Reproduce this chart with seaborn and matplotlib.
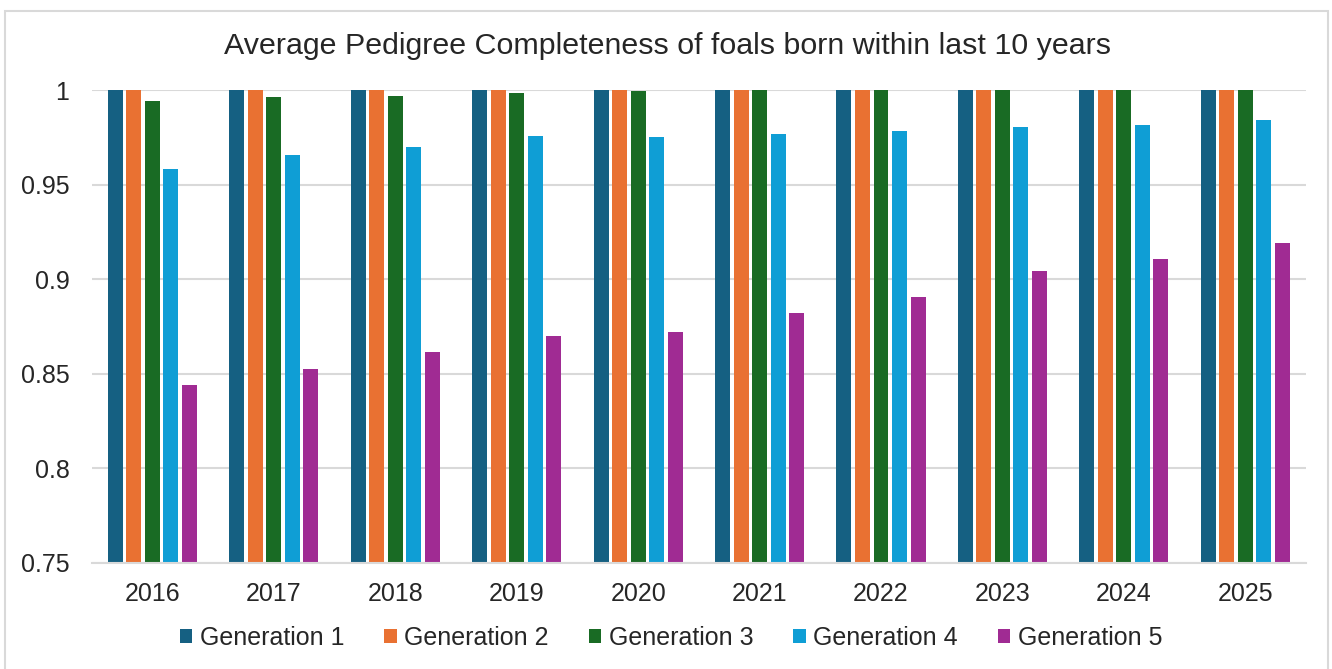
import matplotlib
matplotlib.use("Agg")
import matplotlib.pyplot as plt
import seaborn as sns
import pandas as pd
from matplotlib.patches import Rectangle

years = ["2016", "2017", "2018", "2019", "2020", "2021", "2022", "2023", "2024", "2025"]
gen1 = [1.0, 1.0, 1.0, 1.0, 1.0, 1.0, 1.0, 1.0, 1.0, 1.0]
gen2 = [1.0, 1.0, 1.0, 1.0, 1.0, 1.0, 1.0, 1.0, 1.0, 1.0]
gen3 = [0.9944, 0.9961, 0.9968, 0.9986, 0.9993, 0.9999, 1.0, 1.0, 1.0, 1.0]
gen4 = [0.958, 0.9654, 0.9698, 0.9757, 0.9751, 0.9769, 0.9784, 0.9802, 0.9817, 0.9843]
gen5 = [0.844, 0.8526, 0.8616, 0.8702, 0.8723, 0.882, 0.8907, 0.9041, 0.9106, 0.9192]
series_names = ["Generation 1", "Generation 2", "Generation 3", "Generation 4", "Generation 5"]
colors = ["#156082", "#E97132", "#196B24", "#0F9ED5", "#A02B93"]
title = "Average Pedigree Completeness of foals born within last 10 years"
yticks = [0.75, 0.8, 0.85, 0.9, 0.95, 1.0]
ytick_labels = ["0.75", "0.8", "0.85", "0.9", "0.95", "1"]

rows = []
for name, vals in zip(series_names, [gen1, gen2, gen3, gen4, gen5]):
    for y, v in zip(years, vals):
        rows.append({"Year": y, "Series": name, "Value": v})
df = pd.DataFrame(rows)

sns.set_theme(style="white")
plt.rcParams["font.family"] = ["Liberation Sans", "DejaVu Sans"]
txt = "#262626"
grid_c = "#d9d9d9"

fig = plt.figure(figsize=(13.32, 6.69), dpi=100)
fig.patch.set_facecolor("white")
ax = fig.add_axes([91.7 / 1332, 1 - 563 / 669, (1306 - 91.7) / 1332, (563 - 90) / 669])

sns.barplot(data=df, x="Year", y="Value", hue="Series", order=years,
            hue_order=series_names, palette=colors, width=0.762, gap=0.19,
            saturation=1, edgecolor="none", linewidth=0, ax=ax, zorder=3)

ax.set_ylim(0.75, 1.0)
ax.set_xlim(-0.5, len(years) - 0.5)
ax.set_yticks(yticks)
ax.set_yticklabels(ytick_labels)
ax.set_xlabel("")
ax.set_ylabel("")
ax.grid(axis="y", color=grid_c, linewidth=1.5, zorder=0)
ax.grid(axis="x", visible=False)
for s in ["top", "right", "left"]:
    ax.spines[s].set_visible(False)
ax.spines["bottom"].set_color(grid_c)
ax.spines["bottom"].set_linewidth(1.5)
ax.spines["bottom"].set_zorder(4)
ax.tick_params(axis="both", length=0, labelsize=18, colors=txt)
ax.tick_params(axis="y", pad=16)
ax.tick_params(axis="x", pad=14)
ax.set_facecolor("white")

handles, labels = ax.get_legend_handles_labels()
if ax.get_legend() is not None:
    ax.get_legend().remove()
fig.legend(handles, labels, loc="center", bbox_to_anchor=(671 / 1332, 1 - 638 / 669),
           ncol=5, frameon=False, fontsize=18, handlelength=0.5, handleheight=0.5,
           handletextpad=0.3, columnspacing=1.6, labelcolor=txt)

fig.text(668 / 1332, 1 - 46 / 669, title, ha="center", va="center", fontsize=21.9, color=txt)

fig.patches.append(Rectangle((5 / 1332, -0.05), (1328 - 5) / 1332, 1.05 - 11 / 669,
                             transform=fig.transFigure, fill=False,
                             edgecolor=grid_c, linewidth=1.5))

fig.savefig("out.png", dpi=100, facecolor="white")
